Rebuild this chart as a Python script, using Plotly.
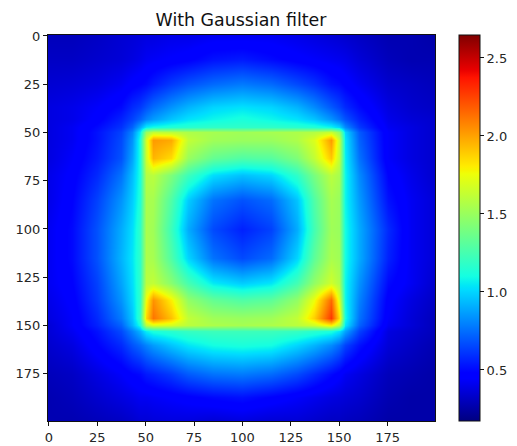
import plotly.graph_objects as go

title_text = "With Gaussian filter"
grid_x = [0, 12, 25, 37, 43, 47, 50, 54, 63, 72, 85, 100, 115, 128, 137, 146, 150, 153, 160, 175, 187, 199]
grid_y = [0, 12, 25, 37, 43, 47, 50, 54, 63, 72, 85, 100, 115, 128, 137, 146, 150, 153, 160, 175, 187, 199]
x_ticks = [0, 25, 50, 75, 100, 125, 150, 175]
cbar_ticks = [0.5, 1.0, 1.5, 2.0, 2.5]
z_low = 0.173
z_high = 2.647

intensity = [
    [.30, .30, .32, .35, .36, .37, .38, .38, .40, .40, .42, .42, .42, .40, .38, .36, .35, .34, .32, .28, .28, .26],
    [.32, .32, .34, .36, .38, .40, .42, .43, .45, .47, .52, .54, .50, .46, .44, .42, .41, .40, .36, .30, .28, .28],
    [.35, .36, .38, .42, .46, .48, .50, .54, .62, .68, .74, .78, .74, .66, .60, .52, .50, .47, .42, .34, .32, .30],
    [.38, .40, .44, .50, .58, .62, .68, .74, .84, .92, 1.00, 1.03, 1.00, .92, .82, .70, .64, .58, .50, .38, .34, .32],
    [.38, .40, .46, .56, .64, .72, .80, .86, .96, 1.03, 1.08, 1.12, 1.08, 1.03, .96, .84, .76, .68, .56, .40, .36, .34],
    [.38, .42, .50, .60, .72, .90, 1.06, 1.10, 1.14, 1.16, 1.18, 1.18, 1.18, 1.16, 1.14, 1.08, 1.00, .82, .62, .42, .38, .34],
    [.38, .42, .52, .64, .80, 1.06, 1.50, 1.62, 1.60, 1.56, 1.54, 1.52, 1.54, 1.56, 1.58, 1.64, 1.48, 1.00, .70, .44, .38, .34],
    [.38, .42, .52, .66, .84, 1.12, 1.68, 2.02, 1.98, 1.62, 1.52, 1.50, 1.50, 1.56, 1.70, 2.02, 1.64, 1.04, .72, .44, .38, .34],
    [.38, .44, .54, .68, .88, 1.12, 1.66, 1.95, 1.85, 1.50, 1.34, 1.28, 1.30, 1.42, 1.62, 1.90, 1.62, 1.06, .76, .44, .38, .34],
    [.40, .46, .58, .76, .94, 1.12, 1.58, 1.60, 1.42, 1.22, 1.02, .95, 1.00, 1.18, 1.40, 1.60, 1.54, 1.08, .82, .48, .40, .34],
    [.40, .48, .64, .84, .98, 1.14, 1.55, 1.54, 1.28, .98, .76, .68, .74, .96, 1.28, 1.54, 1.50, 1.08, .86, .52, .42, .36],
    [.42, .50, .68, .90, 1.02, 1.18, 1.55, 1.52, 1.22, .90, .66, .56, .64, .90, 1.24, 1.52, 1.50, 1.10, .90, .58, .42, .36],
    [.42, .50, .68, .92, 1.04, 1.18, 1.56, 1.54, 1.28, 1.00, .76, .66, .74, 1.00, 1.32, 1.55, 1.52, 1.10, .90, .56, .42, .36],
    [.42, .48, .64, .88, 1.02, 1.18, 1.60, 1.62, 1.45, 1.25, 1.05, .98, 1.04, 1.24, 1.48, 1.66, 1.56, 1.08, .84, .50, .42, .34],
    [.40, .46, .62, .84, 1.00, 1.18, 1.76, 2.04, 1.80, 1.48, 1.34, 1.28, 1.32, 1.48, 1.75, 2.15, 1.70, 1.08, .80, .46, .38, .32],
    [.38, .44, .58, .78, .96, 1.20, 1.86, 2.12, 1.92, 1.62, 1.52, 1.50, 1.52, 1.62, 1.88, 2.28, 1.85, 1.10, .76, .44, .36, .30],
    [.36, .44, .56, .72, .92, 1.12, 1.60, 1.70, 1.68, 1.60, 1.56, 1.54, 1.56, 1.60, 1.66, 1.80, 1.60, 1.04, .72, .42, .36, .30],
    [.36, .42, .52, .66, .80, .92, 1.06, 1.12, 1.16, 1.20, 1.22, 1.22, 1.22, 1.20, 1.16, 1.12, 1.04, .88, .64, .38, .34, .30],
    [.34, .38, .48, .58, .68, .74, .80, .86, .96, 1.04, 1.10, 1.12, 1.10, 1.00, .92, .82, .74, .64, .52, .36, .32, .28],
    [.30, .32, .38, .44, .48, .50, .54, .56, .62, .70, .76, .78, .74, .66, .58, .50, .46, .42, .38, .30, .28, .26],
    [.28, .30, .34, .38, .40, .42, .42, .43, .45, .47, .50, .52, .48, .44, .41, .38, .37, .36, .34, .28, .26, .26],
    [.28, .28, .30, .32, .34, .36, .36, .37, .38, .38, .36, .38, .36, .36, .34, .32, .32, .31, .30, .26, .26, .26],
]

jet = [
    [0.0, "rgb(0,0,128)"], [0.11, "rgb(0,0,255)"], [0.125, "rgb(0,0,255)"],
    [0.34, "rgb(0,219,255)"], [0.35, "rgb(0,230,247)"], [0.375, "rgb(20,255,226)"],
    [0.64, "rgb(238,255,8)"], [0.65, "rgb(247,245,0)"], [0.66, "rgb(255,236,0)"],
    [0.89, "rgb(255,19,0)"], [0.91, "rgb(232,0,0)"], [1.0, "rgb(128,0,0)"],
]

FONT = dict(family="DejaVu Sans", size=13, color="#262626")

fig = go.Figure(go.Heatmap(
    x=grid_x, y=grid_y, z=intensity,
    zmin=z_low, zmax=z_high, zsmooth="best", colorscale=jet,
    colorbar=dict(
        x=1.062, xanchor="left", xpad=0, y=0, yanchor="bottom", ypad=0,
        len=1, lenmode="fraction", thickness=21, thicknessmode="pixels",
        outlinecolor="#111111", outlinewidth=1,
        tickmode="array", tickvals=cbar_ticks, ticktext=["0.5", "1.0", "1.5", "2.0", "2.5"],
        ticks="outside", ticklen=4, tickcolor="#111111", tickfont=FONT,
    ),
))
axis = dict(showgrid=False, zeroline=False, showline=True, mirror=True, linecolor="#111111",
            linewidth=1, ticks="outside", ticklen=4, tickcolor="#111111", tickfont=FONT,
            tickmode="array", tickvals=x_ticks, ticktext=[str(t) for t in x_ticks])
fig.update_xaxes(range=[-0.5, 199.5], **axis)
fig.update_yaxes(range=[199.5, -0.5], **axis)
fig.update_layout(
    width=517, height=446, autosize=False,
    margin=dict(l=48, r=82, t=35, b=25, autoexpand=False),
    paper_bgcolor="white", plot_bgcolor="white",
    title=dict(text=title_text, x=241 / 517, xanchor="center", y=1 - 20 / 446, yanchor="middle",
               font=dict(family="DejaVu Sans", size=17.4, color="#111111")),
)
fig.write_html("out.html", config={"displayModeBar": False},
               post_script="document.body.style.margin='0';")
